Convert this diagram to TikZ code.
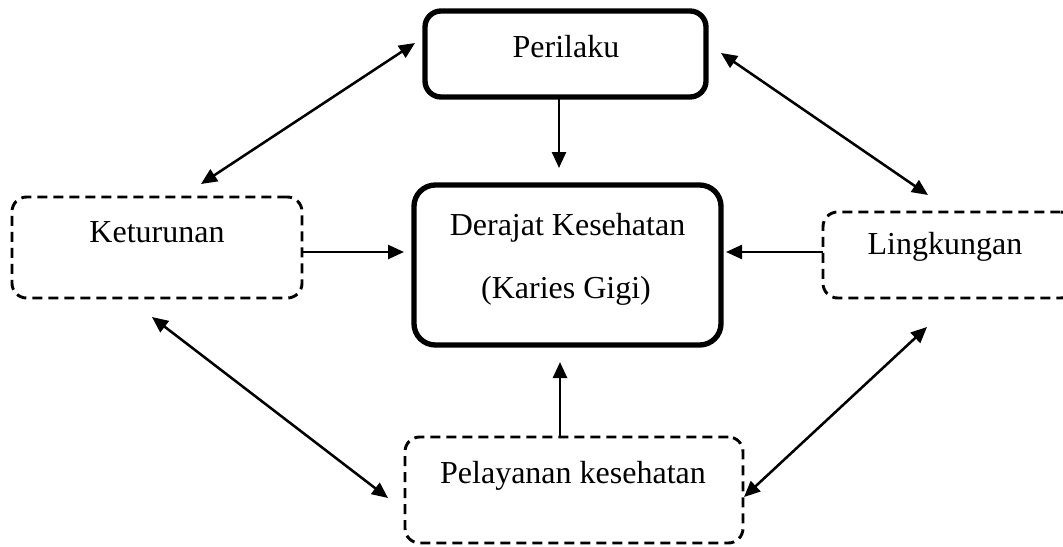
\documentclass[tikz,border=0pt]{standalone}
\usepackage{fontspec}
\setmainfont{Liberation Serif}
\usetikzlibrary{arrows.meta}
\begin{document}
\begin{tikzpicture}[x=0.75pt,y=-0.75pt,
  solidbox/.style={draw, line width=4pt, rectangle, inner sep=0pt},
  dashbox/.style={draw, line width=2.2pt, rectangle, inner sep=0pt, rounded corners=11pt,
    dash pattern=on 7.5pt off 4.5pt},
  lbl/.style={font=\fontsize{24pt}{28pt}\selectfont, anchor=base, inner sep=0pt},
  arr/.style={line width=1.9pt, -{Triangle[length=12pt,width=10.5pt]}},
  darr/.style={line width=1.9pt, {Triangle[length=12pt,width=10.5pt]}-{Triangle[length=12pt,width=10.5pt]}}]
\useasboundingbox (0,0) rectangle (1063,546);
\clip (0,0) rectangle (1063,546);
\fill[white] (0,0) rectangle (1063,546);

% boxes
\node[solidbox, rounded corners=12pt, minimum width=210.75pt, minimum height=64.5pt] (per) at (565.5,54) {};
\node[solidbox, rounded corners=16pt, minimum width=230.25pt, minimum height=120pt] (der) at (567.5,265) {};
\node[dashbox, minimum width=217.5pt, minimum height=75.75pt] (ket) at (157,247.5) {};
\node[dashbox, minimum width=189pt, minimum height=64.5pt] (lin) at (949,255) {};
\node[dashbox, minimum width=253.5pt, minimum height=79.5pt] (pel) at (574,490) {};

% labels
\node[lbl] (tper) at (566,57) {Perilaku};
\node[lbl] (tder1) at (567.5,235) {Derajat Kesehatan};
\node[lbl] (tder2) at (566,298) {(Karies Gigi)};
\node[lbl] (tket) at (157,242) {Keturunan};
\node[lbl] (tlin) at (945,254) {Lingkungan};
\node[lbl] (tpel) at (573,483) {Pelayanan kesehatan};

% connector end points
\coordinate (pA) at (559,97);
\coordinate (dA) at (559,168);
\coordinate (pB) at (560,437);
\coordinate (dB) at (560,362);
\coordinate (kC) at (302,252);
\coordinate (dC) at (404,252);
\coordinate (lD) at (823,252);
\coordinate (dD) at (726,252);
\coordinate (pk1) at (415,43);
\coordinate (pk2) at (201,184);
\coordinate (pl1) at (721,53);
\coordinate (pl2) at (928,195);
\coordinate (kp1) at (152,317);
\coordinate (kp2) at (388,498);
\coordinate (lp1) at (927,327);
\coordinate (lp2) at (744,497);

% connectors
\draw[arr] (pA) -- (dA);
\draw[arr] (pB) -- (dB);
\draw[arr] (kC) -- (dC);
\draw[arr] (lD) -- (dD);
\draw[darr] (pk2) -- (pk1);
\draw[darr] (pl1) -- (pl2);
\draw[darr] (kp1) -- (kp2);
\draw[darr] (lp2) -- (lp1);
\end{tikzpicture}
\end{document}
